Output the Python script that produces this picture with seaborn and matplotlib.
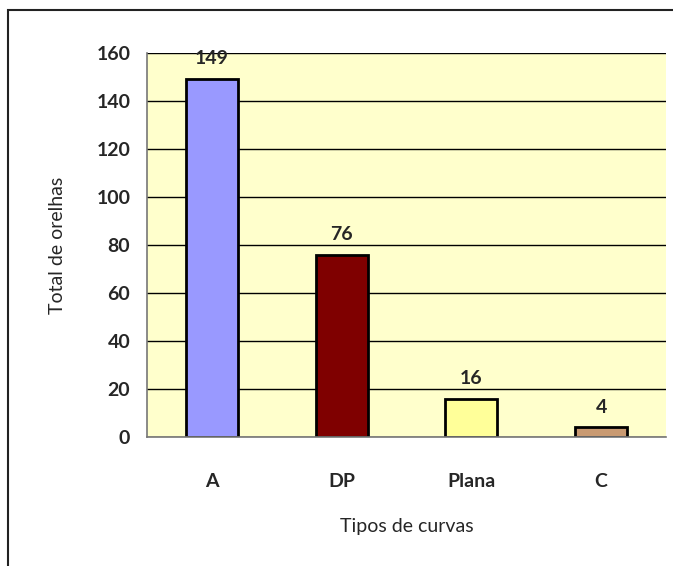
import pandas as pd
import seaborn as sns
import matplotlib.pyplot as plt
from matplotlib.patches import Rectangle
import numpy as np

# chart values
tipos = ['A', 'DP', 'Plana', 'C']
totais = [149, 76, 16, 4]
cores = ['#9999FF', '#7F0000', '#FFFF99', '#C99A72']
yticks = [0, 20, 40, 60, 80, 100, 120, 140, 160]

df = pd.DataFrame({'Tipo': tipos, 'Total': totais})

sns.set_style('white')
plt.rcParams['font.family'] = ['Lato', 'DejaVu Sans']

fig = plt.figure(figsize=(6.73, 5.66), dpi=100)
ax = fig.add_axes([0.2184, 0.2279, 0.7712, 0.6785])
ax.set_facecolor('#FFFFCC')
ax.set_axisbelow(True)

sns.barplot(data=df, x='Tipo', y='Total', hue='Tipo', palette=cores, legend=False,
            saturation=1, width=0.4, edgecolor='black', linewidth=2, ax=ax)

# value labels above bars
for i, v in enumerate(totais):
    ax.text(i, v + 8.5, str(v), ha='center', va='center', fontsize=14, fontweight='bold')

ax.set_ylim(0, 160)
ax.set_xlim(-0.5, 3.5)
ax.set_yticks(yticks)
ax.yaxis.grid(True, color='black', linewidth=1)
ax.tick_params(axis='y', labelsize=14, length=8, width=1, color='#555555', pad=4, direction='out')
for lab in ax.get_yticklabels():
    lab.set_fontweight('bold')

# category boundary ticks on x axis
ax.set_xticks(np.arange(-0.5, 4, 1), minor=True)
ax.tick_params(axis='x', which='minor', length=8, width=1, color='#555555', direction='out')
ax.tick_params(axis='x', which='major', length=0, labelsize=14, pad=26)
for lab in ax.get_xticklabels():
    lab.set_fontweight('bold')

for s in ['top', 'right']:
    ax.spines[s].set_visible(False)
for s in ['left', 'bottom']:
    ax.spines[s].set_color('#777777')
    ax.spines[s].set_linewidth(1.2)

ax.set_xlabel('Tipos de curvas', fontsize=14, labelpad=20)
ax.set_ylabel('Total de orelhas', fontsize=14, labelpad=22)

# outer chart border
fig.patches.append(Rectangle((8 / 673, -0.1), 1.1, 1 - 10 / 566 + 0.1, transform=fig.transFigure,
                             fill=False, edgecolor='#222222', linewidth=1.5))

fig.savefig('out.png', dpi=100)
